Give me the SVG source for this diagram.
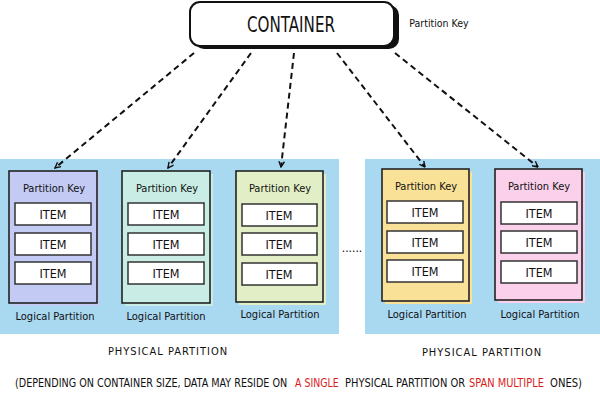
<svg xmlns="http://www.w3.org/2000/svg" width="600" height="400" viewBox="0 0 600 400">
<defs>
<marker id="ah" viewBox="0 0 10 10" refX="9" refY="5" markerWidth="7" markerHeight="7" orient="auto-start-reverse" markerUnits="userSpaceOnUse">
<path d="M1,1 L9,5 L1,9" fill="none" stroke="#111" stroke-width="2"/>
</marker>
<style>
.phys{fill:#a9d8f1}
.lp{stroke:#222;stroke-width:1.6}
.item{fill:#fff;stroke:#333;stroke-width:1.5}
.t{font-family:"DejaVu Sans Condensed","Liberation Sans",sans-serif;fill:#111;text-anchor:middle}
.b{font-family:"DejaVu Sans Condensed","Liberation Sans",sans-serif;fill:#111;font-size:12px}
.red{fill:#d91c1c}
.key{font-size:11px}
.it{font-size:12.5px}
.lbl{font-size:11px}
.conn{fill:none;stroke:#111;stroke-width:2;stroke-dasharray:6,4;marker-end:url(#ah)}
</style>
</defs>
<rect width="600" height="400" fill="#fff"/>

<g id="physical-1">
<rect class="phys" x="0" y="159" width="339" height="175"/>
<text class="t lbl" x="168" y="355" letter-spacing="1">PHYSICAL PARTITION</text>
</g>
<g id="physical-2">
<rect class="phys" x="365" y="159" width="235" height="175"/>
<text class="t lbl" x="482" y="356" letter-spacing="1">PHYSICAL PARTITION</text>
</g>
<text class="t" x="352" y="252" font-size="12">......</text>

<g id="container">
<rect x="194" y="5" width="205" height="44" rx="10" fill="#111"/>
<rect x="190" y="2" width="204" height="44" rx="10" fill="#fff" stroke="#111" stroke-width="2"/>
<text class="t" x="291" y="32" font-size="21" textLength="88" lengthAdjust="spacingAndGlyphs">CONTAINER</text>
<text class="t" x="439" y="27" font-size="10.5">Partition Key</text>
</g>

<g id="logical-1">
<rect x="12" y="174" width="88" height="132" fill="#c3cbf4"/>
<rect class="lp" x="9" y="171" width="88" height="132" fill="#c3cbf4"/>
<text class="t key" x="54" y="192">Partition Key</text>
<rect class="item" x="15" y="203" width="76" height="22"/><text class="t it" x="53" y="219">ITEM</text>
<rect class="item" x="15" y="233" width="76" height="22"/><text class="t it" x="53" y="249">ITEM</text>
<rect class="item" x="15" y="262" width="76" height="22"/><text class="t it" x="53" y="278">ITEM</text>
<text class="t lbl" x="55" y="320">Logical Partition</text>
</g>

<g id="logical-2">
<rect x="125" y="174" width="88" height="132" fill="#c9ede5"/>
<rect class="lp" x="122" y="171" width="88" height="132" fill="#c9ede5"/>
<text class="t key" x="167" y="192">Partition Key</text>
<rect class="item" x="128" y="203" width="76" height="22"/><text class="t it" x="166" y="219">ITEM</text>
<rect class="item" x="128" y="233" width="76" height="22"/><text class="t it" x="166" y="249">ITEM</text>
<rect class="item" x="128" y="262" width="76" height="22"/><text class="t it" x="166" y="278">ITEM</text>
<text class="t lbl" x="166" y="320">Logical Partition</text>
</g>

<g id="logical-3">
<rect x="239" y="174" width="87" height="131" fill="#e2efc6"/>
<rect class="lp" x="236" y="171" width="87" height="131" fill="#e2efc6"/>
<text class="t key" x="280" y="192">Partition Key</text>
<rect class="item" x="242" y="204" width="75" height="22"/><text class="t it" x="279" y="220">ITEM</text>
<rect class="item" x="242" y="233" width="75" height="22"/><text class="t it" x="279" y="249">ITEM</text>
<rect class="item" x="242" y="263" width="75" height="22"/><text class="t it" x="279" y="279">ITEM</text>
<text class="t lbl" x="280" y="318">Logical Partition</text>
</g>

<g id="logical-4">
<rect x="385" y="172" width="87" height="132" fill="#f9e197"/>
<rect class="lp" x="382" y="169" width="87" height="132" fill="#f9e197"/>
<text class="t key" x="426" y="190">Partition Key</text>
<rect class="item" x="387" y="201" width="76" height="22"/><text class="t it" x="425" y="217">ITEM</text>
<rect class="item" x="387" y="231" width="76" height="22"/><text class="t it" x="425" y="247">ITEM</text>
<rect class="item" x="387" y="260" width="76" height="22"/><text class="t it" x="425" y="276">ITEM</text>
<text class="t lbl" x="427" y="318">Logical Partition</text>
</g>

<g id="logical-5">
<rect x="498" y="172" width="87" height="131" fill="#fbd0ea"/>
<rect class="lp" x="495" y="169" width="87" height="131" fill="#fbd0ea"/>
<text class="t key" x="539" y="190">Partition Key</text>
<rect class="item" x="501" y="202" width="76" height="22"/><text class="t it" x="539" y="218">ITEM</text>
<rect class="item" x="501" y="231" width="76" height="22"/><text class="t it" x="539" y="247">ITEM</text>
<rect class="item" x="501" y="261" width="76" height="22"/><text class="t it" x="539" y="277">ITEM</text>
<text class="t lbl" x="540" y="318">Logical Partition</text>
</g>

<g id="connectors">
<path class="conn" d="M194,53 L55,168"/>
<path class="conn" d="M251,53 L168,168"/>
<path class="conn" d="M294,53 L281,167"/>
<path class="conn" d="M337,53 L425,167"/>
<path class="conn" d="M395,53 L538,167"/>
</g>

<g id="footnote">
<text class="b" transform="translate(15,387) scale(0.78,1)" x="0" y="0" textLength="349" lengthAdjust="spacingAndGlyphs">(DEPENDING ON CONTAINER SIZE, DATA MAY RESIDE ON</text>
<text class="b red" transform="translate(295,387) scale(0.78,1)" x="0" y="0" textLength="56" lengthAdjust="spacingAndGlyphs">A SINGLE</text>
<text class="b" transform="translate(345,387) scale(0.78,1)" x="0" y="0" textLength="154" lengthAdjust="spacingAndGlyphs">PHYSICAL PARTITION OR</text>
<text class="b red" transform="translate(469,387) scale(0.78,1)" x="0" y="0" textLength="96" lengthAdjust="spacingAndGlyphs">SPAN MULTIPLE</text>
<text class="b" transform="translate(550,387) scale(0.78,1)" x="0" y="0" textLength="41" lengthAdjust="spacingAndGlyphs">ONES)</text>
</g>
</svg>
